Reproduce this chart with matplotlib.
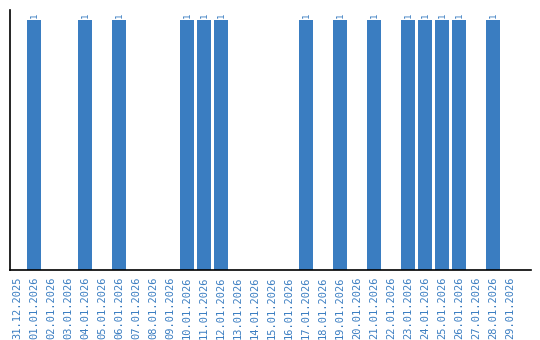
import matplotlib
matplotlib.use("Agg")
import matplotlib.pyplot as plt

dates = ["31.12.2025"] + [f"{d:02d}.01.2026" for d in range(1, 30)]
values = [0, 1, 0, 0, 1, 0, 1, 0, 0, 0, 1, 1, 1, 0, 0, 0, 0, 1, 0, 1, 0, 1, 0, 1, 1, 1, 1, 0, 1, 0]

color = "#3A7DC1"
W, H = 540, 340
fig = plt.figure(figsize=(W / 100, H / 100), dpi=100)
ax = fig.add_axes([10 / W, (H - 270) / H, (531 - 10) / W, 260 / H])

x = list(range(len(dates)))
ax.bar(x, values, width=0.82, color=color)
for xi, v in zip(x, values):
    if v:
        ax.text(xi, v + 0.008, str(v), rotation=90, ha="center", va="bottom",
                fontsize=6.5, color=color, family="DejaVu Sans Mono")

ax.set_xlim(-0.41, 30.24)
ax.set_ylim(0, 1.04)
ax.set_xticks(x)
ax.set_xticklabels(dates, rotation=90, fontsize=7.5, color=color, family="DejaVu Sans Mono")
ax.tick_params(axis="x", length=0, pad=5)
ax.set_yticks([])
for s in ["top", "right"]:
    ax.spines[s].set_visible(False)
ax.spines["left"].set_linewidth(1.2)
ax.spines["bottom"].set_linewidth(1.2)

fig.savefig("out.png", dpi=100)
